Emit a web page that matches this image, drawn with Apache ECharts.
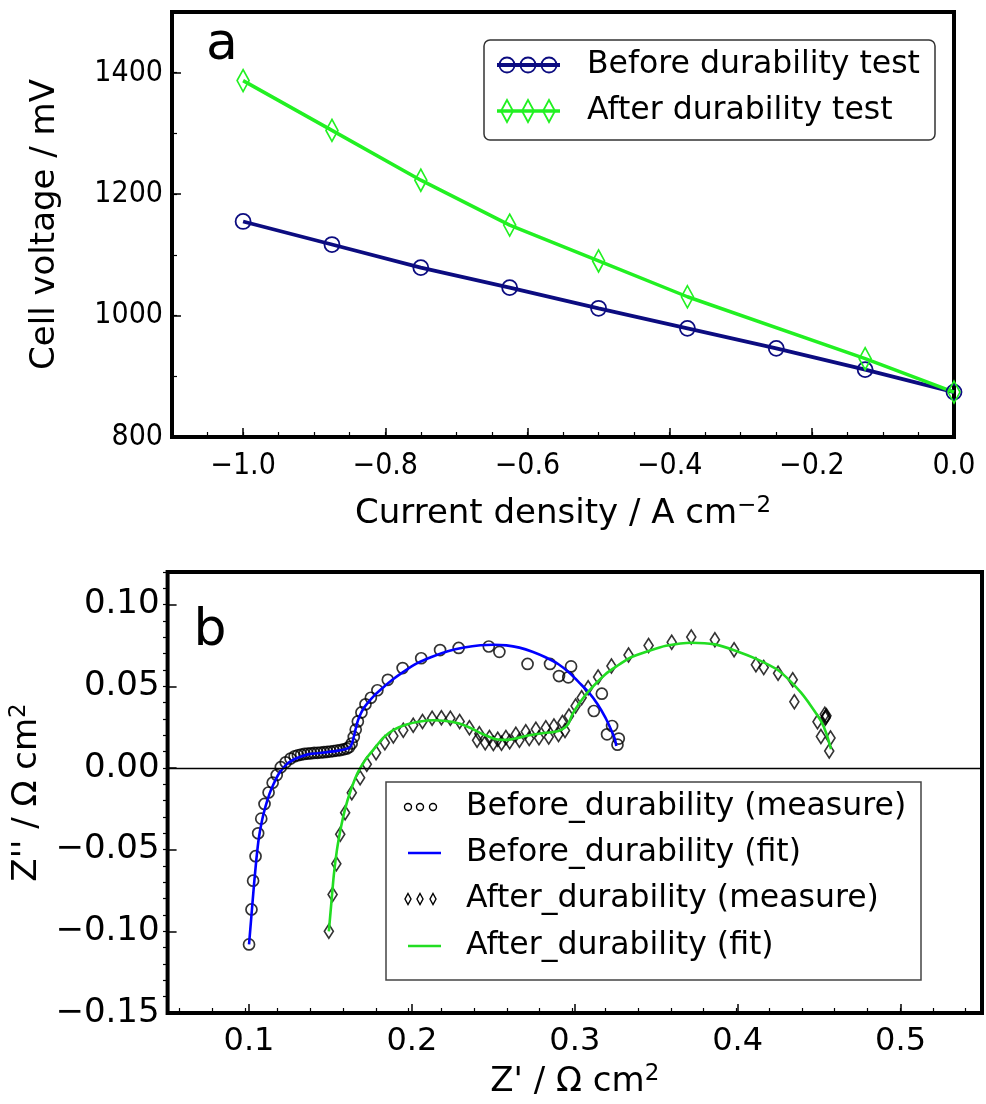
<!DOCTYPE html>
<html><head><meta charset="utf-8">
<script src="https://cdn.jsdelivr.net/npm/echarts@6/dist/echarts.min.js"></script>
<style>html,body{margin:0;padding:0;background:#fff}#c{width:986px;height:1104px}</style>
</head><body><div id="c"></div>
<script>
// ---------- Panel a data ----------
const currentBefore = [-1.0, -0.875, -0.75, -0.625, -0.5, -0.375, -0.25, -0.125, 0.0];
const voltageBefore = [1155, 1117, 1079, 1046, 1012, 979, 946, 911, 874];
const currentAfter  = [-1.0, -0.875, -0.75, -0.625, -0.5, -0.375, -0.125, 0.0];
const voltageAfter  = [1387, 1305, 1223, 1149, 1090, 1031, 929, 874];
const xTicksA = [-1.0, -0.8, -0.6, -0.4, -0.2, 0.0];
const xLabelsA = ['\u22121.0', '\u22120.8', '\u22120.6', '\u22120.4', '\u22120.2', '0.0'];
const yTicksA = [800, 1000, 1200, 1400];
const yLabelsA = ['800', '1000', '1200', '1400'];

// ---------- Panel b data ----------
const beforeMeasure = [
 [0.100,-0.108],[0.1015,-0.0866],[0.1025,-0.069],[0.104,-0.054],[0.1056,-0.040],[0.1075,-0.031],
 [0.1095,-0.022],[0.112,-0.015],[0.1145,-0.009],[0.117,-0.0043],[0.1195,0.0005],[0.1225,0.0035],
 [0.1255,0.0058],[0.128,0.0072],[0.130,0.0078],[0.132,0.0082],[0.134,0.0086],[0.136,0.0088],
 [0.138,0.0090],[0.140,0.0092],[0.142,0.0093],[0.144,0.0095],[0.146,0.0097],[0.148,0.0099],
 [0.150,0.0101],[0.152,0.0104],[0.154,0.0107],[0.156,0.0110],[0.158,0.0114],[0.160,0.0119],
 [0.1615,0.0128],[0.163,0.0150],[0.1643,0.0190],[0.1655,0.0235],[0.1668,0.0285],[0.169,0.0340],
 [0.1715,0.0390],[0.1748,0.0430],[0.1788,0.0476],[0.1852,0.0540],[0.1943,0.0612],[0.2057,0.0672],
 [0.2173,0.0722],[0.2287,0.0735],[0.2472,0.0744],[0.2537,0.0711],[0.2710,0.0637],[0.2848,0.0637],
 [0.2977,0.0622],[0.2903,0.0563],[0.2960,0.0555],[0.3166,0.0455],[0.3117,0.0349],[0.3229,0.0257],
 [0.3198,0.0206],[0.3270,0.0180],[0.3262,0.0143]
];
const beforeFit = [
 [0.100,-0.108],[0.1015,-0.090],[0.103,-0.072],[0.1045,-0.056],[0.106,-0.043],[0.108,-0.032],
 [0.110,-0.024],[0.1125,-0.016],[0.115,-0.010],[0.118,-0.004],[0.121,0.000],[0.124,0.003],
 [0.128,0.0055],[0.132,0.007],[0.137,0.0085],[0.142,0.009],[0.148,0.0097],[0.154,0.0105],
 [0.159,0.0115],[0.162,0.0128],[0.1635,0.016],[0.165,0.022],[0.1665,0.028],[0.168,0.032],
 [0.170,0.036],[0.173,0.040],[0.177,0.0445],[0.182,0.049],[0.188,0.054],[0.195,0.059],
 [0.203,0.064],[0.212,0.068],[0.222,0.0715],[0.232,0.0738],[0.242,0.0752],[0.250,0.0755],
 [0.258,0.0751],[0.266,0.0737],[0.274,0.0712],[0.282,0.0678],[0.290,0.0635],[0.297,0.058],
 [0.303,0.052],[0.3087,0.0461],[0.314,0.039],[0.3188,0.0308],[0.322,0.024],[0.3245,0.018],
 [0.3255,0.0135]
];
const afterMeasure = [
 [0.149,-0.100],[0.1513,-0.0774],[0.1536,-0.0586],[0.156,-0.0406],[0.159,-0.0274],[0.1631,-0.0151],
 [0.1682,-0.0060],[0.1723,0.0023],[0.1780,0.0094],[0.1834,0.0155],[0.1886,0.0196],[0.1947,0.0231],
 [0.2008,0.0261],[0.2065,0.0284],[0.2124,0.0304],[0.2181,0.0308],[0.2236,0.0304],[0.2293,0.0284],
 [0.2353,0.0247],[0.2414,0.0210],[0.2476,0.0186],[0.2527,0.0176],[0.2577,0.0186],[0.2638,0.0206],
 [0.2699,0.0222],[0.2761,0.0237],[0.2822,0.0247],[0.2872,0.0257],[0.2924,0.0278],[0.2964,0.0318],
 [0.3005,0.0380],[0.3042,0.0430],[0.3082,0.0492],[0.3143,0.0557],[0.3225,0.0625],[0.3330,0.0692],
 [0.3453,0.0750],[0.3595,0.0770],[0.3715,0.0802],[0.3860,0.0785],[0.3978,0.0724],[0.4112,0.0632],
 [0.4160,0.0616],[0.4248,0.0580],[0.4338,0.0540],[0.4348,0.0406],[0.4490,0.0283],[0.4535,0.0329],
 [0.4541,0.0312],[0.4545,0.0320],[0.4538,0.0305],[0.4511,0.0193],[0.4570,0.0184],[0.4562,0.0104],
 [0.2400,0.0170],[0.2450,0.0155],[0.2500,0.0150],[0.2550,0.0152],[0.2600,0.0160],[0.2660,0.0170],
 [0.2720,0.0180],[0.2780,0.0185],[0.2840,0.0190],[0.2900,0.0205],[0.2940,0.0230]
];
const afterFit = [
 [0.149,-0.100],[0.1505,-0.083],[0.152,-0.066],[0.154,-0.050],[0.1565,-0.036],[0.159,-0.025],
 [0.162,-0.015],[0.1662,-0.004],[0.1695,0.002],[0.1723,0.0063],[0.177,0.012],[0.1825,0.0186],
 [0.189,0.0235],[0.1967,0.0267],[0.205,0.0285],[0.213,0.0292],[0.221,0.0288],[0.229,0.0272],
 [0.236,0.0245],[0.243,0.021],[0.2517,0.0176],[0.258,0.0172],[0.264,0.0182],[0.272,0.020],
 [0.280,0.0213],[0.287,0.022],[0.292,0.0235],[0.296,0.027],[0.2985,0.0329],[0.303,0.040],
 [0.3087,0.0472],[0.3188,0.0574],[0.326,0.0625],[0.334,0.0675],[0.3453,0.0716],[0.356,0.0748],
 [0.3717,0.0767],[0.386,0.0757],[0.3982,0.072],[0.4114,0.0668],[0.4246,0.0600],[0.432,0.0535],
 [0.4389,0.0461],[0.445,0.038],[0.4511,0.0288],[0.4545,0.021],[0.4573,0.0115]
];
const xTicksB = [0.1, 0.2, 0.3, 0.4, 0.5];
const xLabelsB = ['0.1', '0.2', '0.3', '0.4', '0.5'];
const yTicksB = [-0.15, -0.10, -0.05, 0.00, 0.05, 0.10];
const yLabelsB = ['\u22120.15', '\u22120.10', '\u22120.05', '0.00', '0.05', '0.10'];

const legendA = ['Before durability test', 'After durability test'];
const legendB = ['Before_durability (measure)', 'Before_durability (fit)', 'After_durability (measure)', 'After_durability (fit)'];

// ---------- helpers ----------
const FONT = '"DejaVu Sans", sans-serif';
const FONT_COND = '"DejaVu Sans Condensed", "DejaVu Sans", sans-serif';
const NAVY = '#0c0c80', LIME = '#22f022', BLUE = '#0000ff', GREEN = '#22dd22';
function steps(a, b, s) { const r = []; const n = Math.round((b - a) / s); for (let i = 0; i <= n; i++) r.push(+(a + i * s).toFixed(5)); return r; }
function fmt(vals, labels) { return v => { for (let i = 0; i < vals.length; i++) if (Math.abs(v - vals[i]) < 1e-7) return labels[i]; return ''; }; }
const zip = (xs, ys) => xs.map((x, i) => [x, ys[i]]);
const nameStyle = { fontSize: 34, color: '#000', fontFamily: FONT,
  rich: { n: { fontSize: 34, fontFamily: FONT, color: '#000' }, s: { fontSize: 23, fontFamily: FONT, color: '#000', padding: [0, 0, 16, 0] } } };

function majorAxis(grid, min, max, ticks, labels, size, margin, family, extra) {
  return Object.assign({
    gridIndex: grid, type: 'value', min, max,
    axisLine: { show: false, onZero: false }, splitLine: { show: false },
    axisTick: { inside: true, length: 9, customValues: ticks, lineStyle: { color: '#000', width: 1.5 } },
    axisLabel: { customValues: ticks, formatter: fmt(ticks, labels), fontSize: size, color: '#000', fontFamily: family, margin: margin },
    nameLocation: 'middle', nameTextStyle: nameStyle
  }, extra);
}
function minorAxis(grid, min, max, ticks, pos) {
  return {
    gridIndex: grid, type: 'value', min, max, position: pos,
    axisLine: { show: false, onZero: false }, splitLine: { show: false }, axisLabel: { show: false },
    axisTick: { inside: true, length: 5, customValues: ticks, lineStyle: { color: '#000', width: 1.2 } }
  };
}

const chart = echarts.init(document.getElementById('c'), null, { renderer: 'canvas' });
const hollow = (c, w) => ({ color: 'rgba(0,0,0,0)', borderColor: c, borderWidth: w });

function diamond(cx, cy, hw, hh, color, lw) {
  return { type: 'polygon', z: 101, shape: { points: [[cx, cy - hh], [cx + hw, cy], [cx, cy + hh], [cx - hw, cy]] },
    style: { fill: 'none', stroke: color, lineWidth: lw } };
}
function circle(cx, cy, r, color, lw) {
  return { type: 'circle', z: 101, shape: { cx, cy, r }, style: { fill: 'none', stroke: color, lineWidth: lw } };
}
function seg(x1, x2, y, color, lw) {
  return { type: 'line', z: 101, shape: { x1, y1: y, x2, y2: y }, style: { stroke: color, lineWidth: lw } };
}
function txt(x, y, t, size) {
  return { type: 'text', z: 101, x, y, style: { text: t, fontSize: size, fontFamily: FONT, fill: '#000', verticalAlign: 'middle', align: 'left' } };
}

const gridA = { left: 172, top: 12, width: 782, height: 425 };
const gridB = { left: 163, top: 572, width: 819, height: 441 };

const option = {
  animation: false,
  backgroundColor: '#fff',
  grid: [
    Object.assign({ show: true, borderWidth: 4, borderColor: '#000', backgroundColor: 'transparent' }, gridA),
    Object.assign({ show: true, borderWidth: 4, borderColor: '#000', backgroundColor: 'transparent' }, gridB),
    Object.assign({ show: false }, gridA),
    Object.assign({ show: false }, gridB)
  ],
  xAxis: [
    majorAxis(0, -1.1, 0, xTicksA, xLabelsA, 30, 14, FONT_COND, { position: 'bottom', name: '{n|Current density / A cm}{s|\u22122}', nameGap: 58 }),
    minorAxis(2, -1.1, 0, steps(-1.1, 0, 0.05), 'bottom'),
    majorAxis(1, 0.05, 0.55, xTicksB, xLabelsB, 32, 13, FONT, { position: 'bottom', name: "{n|Z' / \u03A9 cm}{s|2}", nameGap: 50 }),
    minorAxis(3, 0.05, 0.55, steps(0.06, 0.54, 0.02), 'bottom')
  ],
  yAxis: [
    majorAxis(0, 800, 1500, yTicksA, yLabelsA, 30, 9, FONT_COND, { position: 'left', name: '{n|Cell voltage / mV}', nameGap: 110 }),
    minorAxis(2, 800, 1500, steps(900, 1500, 100), 'left'),
    majorAxis(1, -0.15, 0.12, yTicksB, yLabelsB, 34, 8, FONT, { position: 'left', name: "{n|Z'' / \u03A9 cm}{s|2}", nameGap: 86 }),
    minorAxis(3, -0.15, 0.12, steps(-0.14, 0.12, 0.01), 'left')
  ],
  series: [
    { name: legendA[0], type: 'line', xAxisIndex: 0, yAxisIndex: 0, data: zip(currentBefore, voltageBefore),
      symbol: 'circle', symbolSize: 15, itemStyle: hollow(NAVY, 1.8), lineStyle: { color: NAVY, width: 3.8 }, color: NAVY },
    { name: legendA[1], type: 'line', xAxisIndex: 0, yAxisIndex: 0, data: zip(currentAfter, voltageAfter),
      symbol: 'diamond', symbolSize: [12, 22], itemStyle: hollow(LIME, 1.8), lineStyle: { color: LIME, width: 3.5 }, color: LIME },
    { name: legendB[0], type: 'scatter', xAxisIndex: 2, yAxisIndex: 2, data: beforeMeasure,
      symbol: 'circle', symbolSize: 11, itemStyle: hollow('#000', 1.7) },
    { name: legendB[1], type: 'line', xAxisIndex: 2, yAxisIndex: 2, data: beforeFit, showSymbol: false, smooth: 0.2,
      lineStyle: { color: BLUE, width: 2.6 }, color: BLUE,
      markLine: { silent: true, symbol: 'none', label: { show: false }, lineStyle: { color: '#000', width: 1.3, type: 'solid' }, data: [{ yAxis: 0 }] } },
    { name: legendB[2], type: 'scatter', xAxisIndex: 2, yAxisIndex: 2, data: afterMeasure,
      symbol: 'diamond', symbolSize: [9, 14], itemStyle: hollow('#000', 1.7) },
    { name: legendB[3], type: 'line', xAxisIndex: 2, yAxisIndex: 2, data: afterFit, showSymbol: false, smooth: 0.2,
      lineStyle: { color: GREEN, width: 2.6 }, color: GREEN }
  ],
  graphic: [
    { type: 'text', z: 101, x: 222, y: 45, style: { text: 'a', fontSize: 52, fontFamily: FONT, fill: '#000', align: 'center', verticalAlign: 'middle' } },
    { type: 'text', z: 101, x: 210, y: 631, style: { text: 'b', fontSize: 52, fontFamily: FONT, fill: '#000', align: 'center', verticalAlign: 'middle' } },
    // legend a
    { type: 'rect', z: 100, shape: { x: 484, y: 40, width: 451, height: 100, r: 6 }, style: { fill: '#fff', stroke: '#333', lineWidth: 1.5 } },
    seg(497, 560, 65, NAVY, 3.8), circle(507, 65, 7.5, NAVY, 1.8), circle(528, 65, 7.5, NAVY, 1.8), circle(549, 65, 7.5, NAVY, 1.8),
    txt(587, 65, legendA[0], 31.5),
    seg(497, 560, 111, LIME, 3.5), diamond(507, 111, 6, 11, LIME, 1.8), diamond(528, 111, 6, 11, LIME, 1.8), diamond(549, 111, 6, 11, LIME, 1.8),
    txt(587, 111, legendA[1], 31.5),
    // legend b
    { type: 'rect', z: 100, shape: { x: 386, y: 782, width: 535, height: 198 }, style: { fill: '#fff', stroke: '#444', lineWidth: 1.5 } },
    circle(408, 807, 3.5, '#000', 1.4), circle(420, 807, 3.5, '#000', 1.4), circle(433, 807, 3.5, '#000', 1.4),
    txt(466, 807, legendB[0], 31.5),
    seg(408, 441, 853, BLUE, 2.6), txt(466, 853, legendB[1], 31.5),
    diamond(408, 899, 3, 5.5, '#000', 1.4), diamond(420, 899, 3, 5.5, '#000', 1.4), diamond(433, 899, 3, 5.5, '#000', 1.4),
    txt(466, 899, legendB[2], 31.5),
    seg(408, 441, 946, GREEN, 2.6), txt(466, 946, legendB[3], 31.5)
  ]
};
chart.setOption(option);
</script></body></html>
